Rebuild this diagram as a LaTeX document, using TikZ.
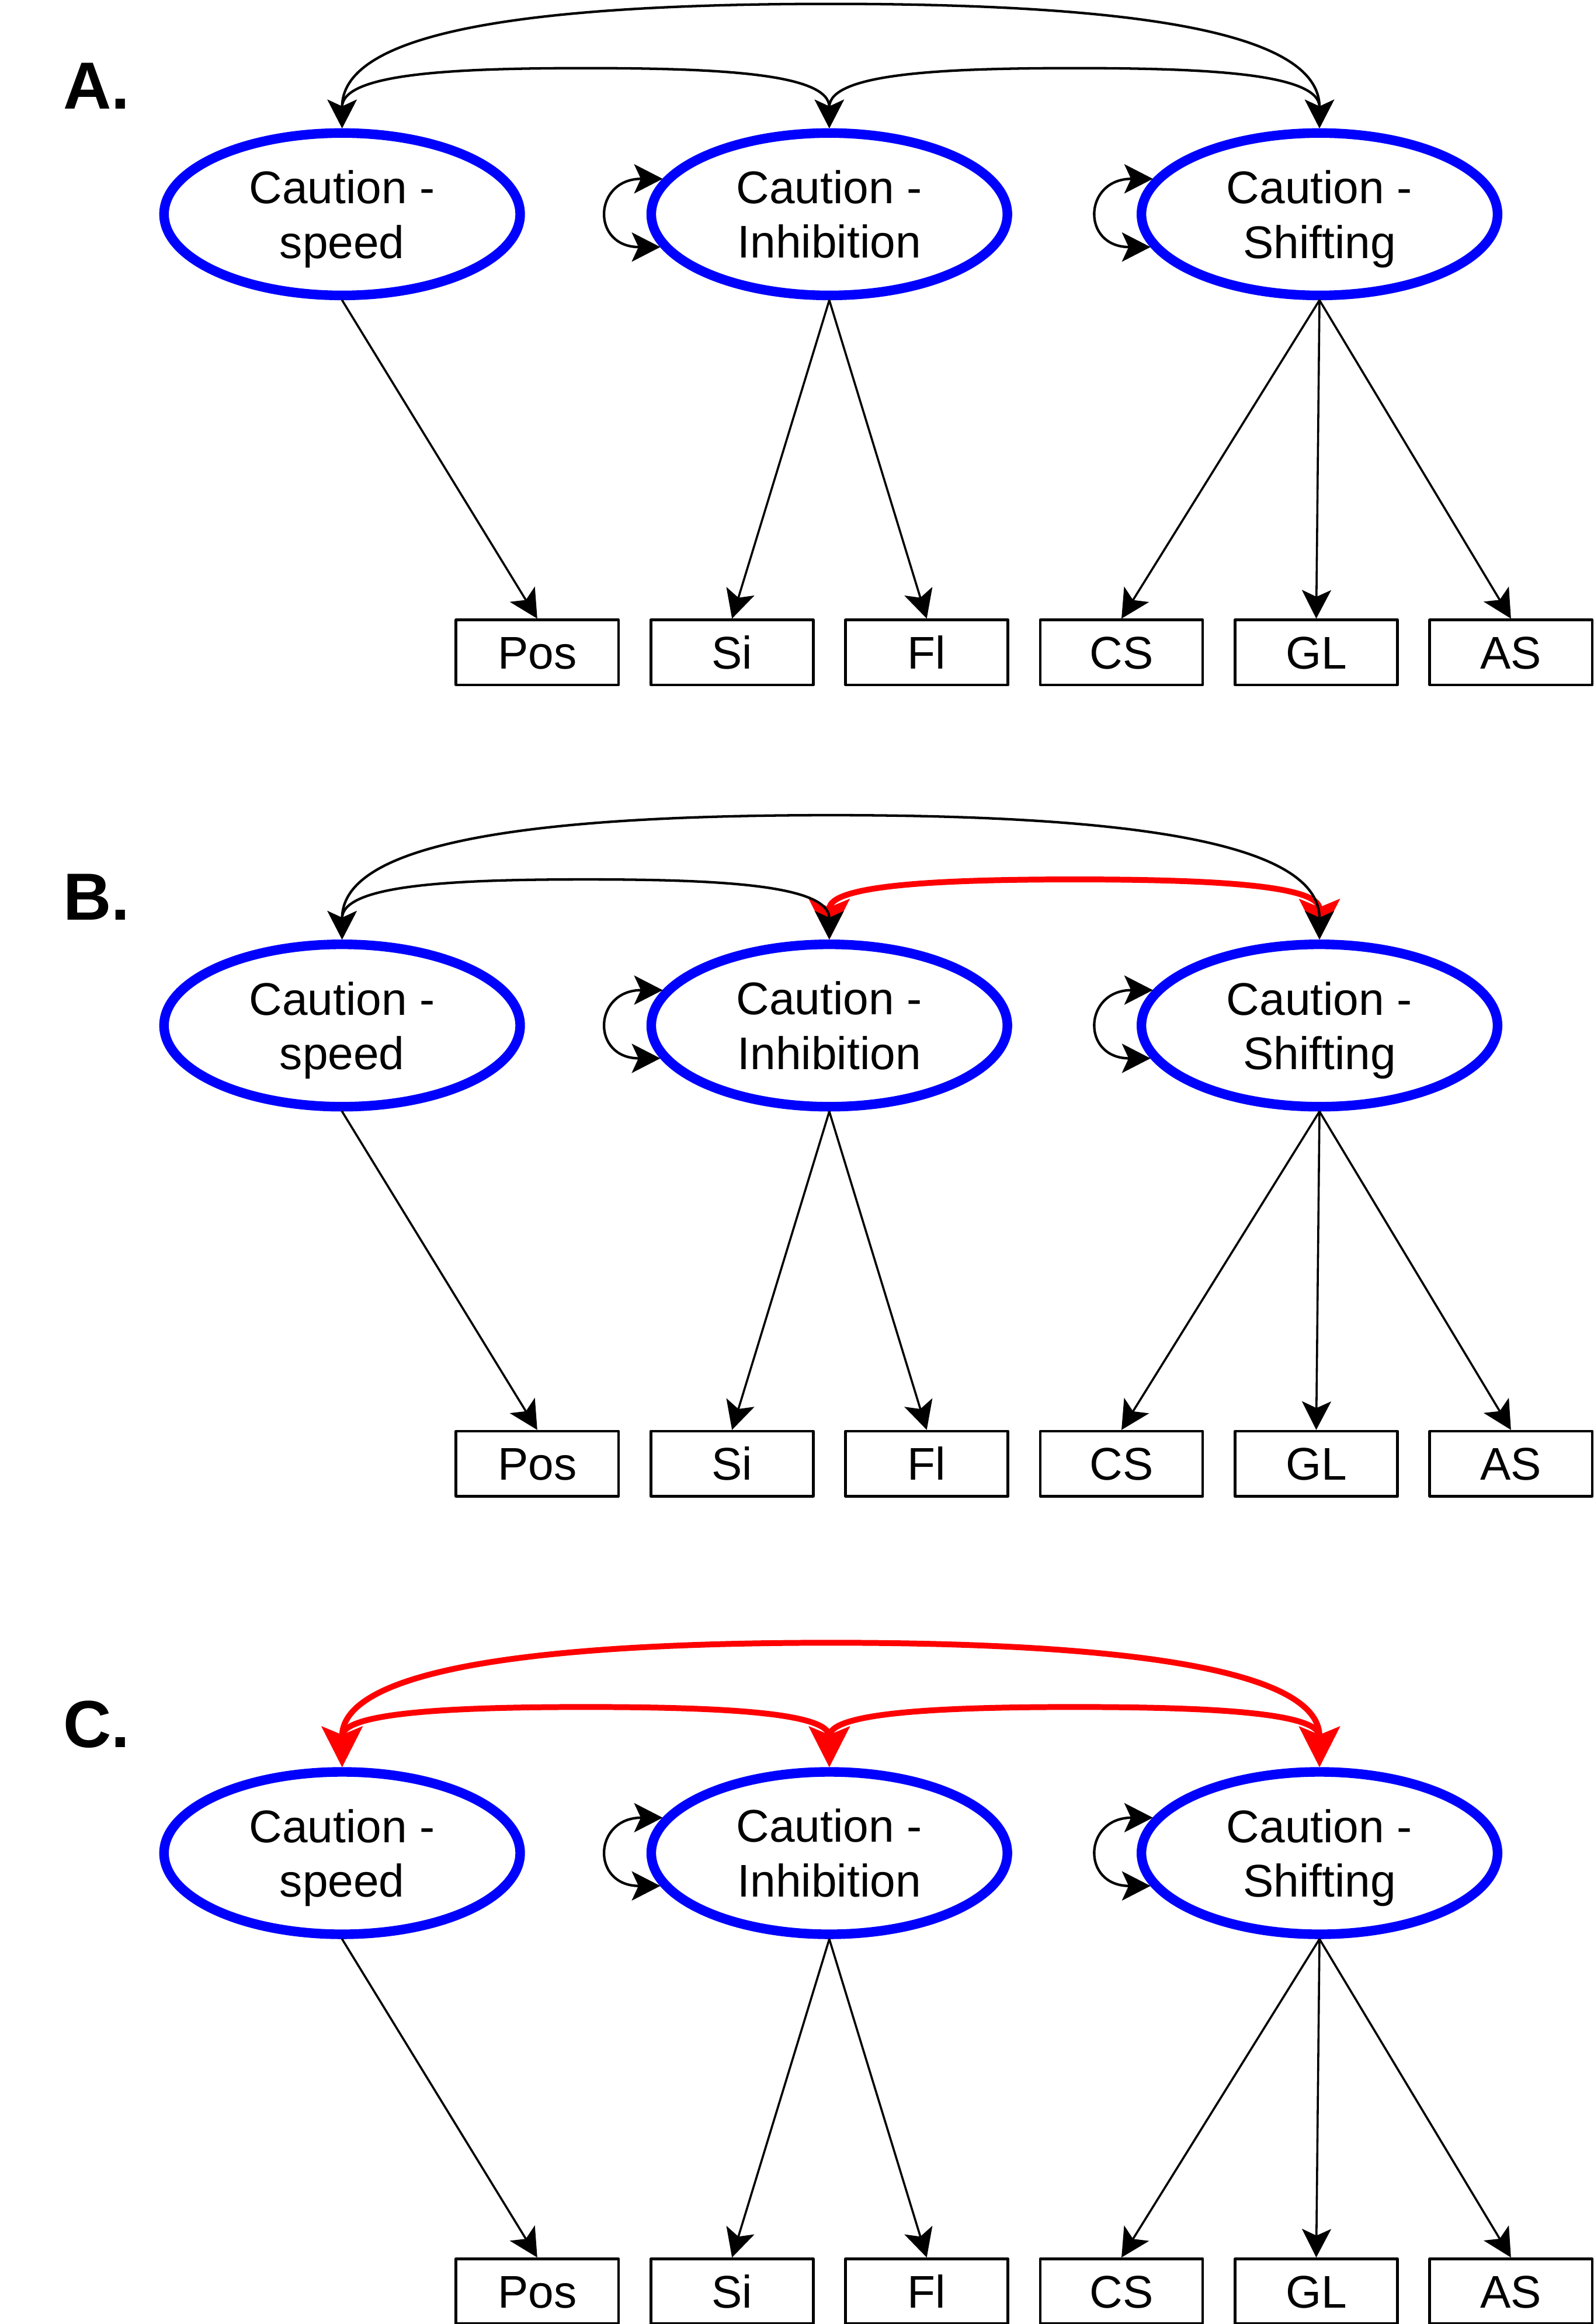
\documentclass[tikz,border=0pt]{standalone}
\usepackage{fontspec}
\setmainfont{Liberation Sans}
\usetikzlibrary{arrows.meta,shapes.geometric,calc}
\definecolor{cblue}{rgb}{0.,0.,1.}
\definecolor{cred}{rgb}{1.,0.,0.}

\begin{document}
\begin{tikzpicture}[line cap=round,line join=round,x=0.025cm,y=-0.025cm,
	>={Stealth[length=13.7pt,width=14pt,inset=3.2pt]},
	lat/.style={ellipse,draw=cblue,line width=4.6pt,minimum width=171pt,minimum height=78pt,inner sep=0pt,align=center,font=\fontsize{22}{26.2}\selectfont},
	obs/.style={rectangle,draw,line width=1.3pt,minimum width=78pt,minimum height=31.2pt,inner sep=0pt,text height=15.8pt,text depth=0pt,font=\fontsize{22}{26.2}\selectfont},
	ld/.style={->,line width=1pt},
	cov/.style={<->,line width=1.2pt},
	covred/.style={{Stealth[length=19.4pt,width=19.4pt,inset=3.9pt]}-{Stealth[length=19.4pt,width=19.4pt,inset=3.9pt]},line width=2.8pt,color=cred},
	lbl/.style={anchor=base west,inner sep=0pt,font=\fontsize{32}{38}\selectfont\bfseries}]
		\useasboundingbox (0,0) rectangle (1076,1569.8);
		\node [lbl] (labA) at (42.5,73.4) {A.};
		\node [lat] (spA) at (231,144.7) {\rule{0pt}{20.6pt}Caution -\\speed};
		\node [lat] (inA) at (560,144.7) {Caution -\\Inhibition};
		\node [lat] (shA) at (891,144.7) {\rule{0pt}{20.6pt}Caution -\\Shifting};
		\node [obs] (posA) at (362.8,440.7) {Pos};
		\node [obs] (siA) at (494.3,440.7) {Si};
		\node [obs] (flA) at (625.8,440.7) {Fl};
		\node [obs] (csA) at (757.3,440.7) {CS};
		\node [obs] (glA) at (888.8,440.7) {GL};
		\node [obs] (asA) at (1020.3,440.7) {AS};
		\draw [ld] (spA.south) -- (posA.north);
		\draw [ld] (inA.south) -- (siA.north);
		\draw [ld] (inA.south) -- (flA.north);
		\draw [ld] (shA.south) -- (csA.north);
		\draw [ld] (shA.south) -- (glA.north);
		\draw [ld] (shA.south) -- (asA.north);
		\draw [cov] (inA.168.6) .. controls +(-47,0) and +(-47,0) .. (inA.191.4);
		\draw [cov] (shA.168.6) .. controls +(-47,0) and +(-47,0) .. (shA.191.4);
		\draw [cov] (spA.north) .. controls +(0,-37) and +(-90,0) .. ($(spA.north)!.5!(inA.north)+(0,-40.6)$) .. controls +(90,0) and +(0,-37) .. (inA.north);
		\draw [cov] (inA.north) .. controls +(0,-37) and +(-90,0) .. ($(inA.north)!.5!(shA.north)+(0,-40.6)$) .. controls +(90,0) and +(0,-37) .. (shA.north);
		\draw [cov] (spA.north) .. controls +(0,-60) and +(-230,0) .. ($(spA.north)!.5!(shA.north)+(0,-84)$) .. controls +(230,0) and +(0,-60) .. (shA.north);
		\node [lbl] (labB) at (42.5,621.4) {B.};
		\node [lat] (spB) at (231,692.7) {\rule{0pt}{20.6pt}Caution -\\speed};
		\node [lat] (inB) at (560,692.7) {Caution -\\Inhibition};
		\node [lat] (shB) at (891,692.7) {\rule{0pt}{20.6pt}Caution -\\Shifting};
		\node [obs] (posB) at (362.8,988.7) {Pos};
		\node [obs] (siB) at (494.3,988.7) {Si};
		\node [obs] (flB) at (625.8,988.7) {Fl};
		\node [obs] (csB) at (757.3,988.7) {CS};
		\node [obs] (glB) at (888.8,988.7) {GL};
		\node [obs] (asB) at (1020.3,988.7) {AS};
		\draw [ld] (spB.south) -- (posB.north);
		\draw [ld] (inB.south) -- (siB.north);
		\draw [ld] (inB.south) -- (flB.north);
		\draw [ld] (shB.south) -- (csB.north);
		\draw [ld] (shB.south) -- (glB.north);
		\draw [ld] (shB.south) -- (asB.north);
		\draw [cov] (inB.168.6) .. controls +(-47,0) and +(-47,0) .. (inB.191.4);
		\draw [cov] (shB.168.6) .. controls +(-47,0) and +(-47,0) .. (shB.191.4);
		\draw [covred] (inB.north) .. controls +(0,-37) and +(-90,0) .. ($(inB.north)!.5!(shB.north)+(0,-40.6)$) .. controls +(90,0) and +(0,-37) .. (shB.north);
		\draw [cov] (spB.north) .. controls +(0,-37) and +(-90,0) .. ($(spB.north)!.5!(inB.north)+(0,-40.6)$) .. controls +(90,0) and +(0,-37) .. (inB.north);
		\draw [cov] (spB.north) .. controls +(0,-60) and +(-230,0) .. ($(spB.north)!.5!(shB.north)+(0,-84)$) .. controls +(230,0) and +(0,-60) .. (shB.north);
		\node [lbl] (labC) at (42.5,1180.4) {C.};
		\node [lat] (spC) at (231,1251.7) {\rule{0pt}{20.6pt}Caution -\\speed};
		\node [lat] (inC) at (560,1251.7) {Caution -\\Inhibition};
		\node [lat] (shC) at (891,1251.7) {\rule{0pt}{20.6pt}Caution -\\Shifting};
		\node [obs] (posC) at (362.8,1547.7) {Pos};
		\node [obs] (siC) at (494.3,1547.7) {Si};
		\node [obs] (flC) at (625.8,1547.7) {Fl};
		\node [obs] (csC) at (757.3,1547.7) {CS};
		\node [obs] (glC) at (888.8,1547.7) {GL};
		\node [obs] (asC) at (1020.3,1547.7) {AS};
		\draw [ld] (spC.south) -- (posC.north);
		\draw [ld] (inC.south) -- (siC.north);
		\draw [ld] (inC.south) -- (flC.north);
		\draw [ld] (shC.south) -- (csC.north);
		\draw [ld] (shC.south) -- (glC.north);
		\draw [ld] (shC.south) -- (asC.north);
		\draw [cov] (inC.168.6) .. controls +(-47,0) and +(-47,0) .. (inC.191.4);
		\draw [cov] (shC.168.6) .. controls +(-47,0) and +(-47,0) .. (shC.191.4);
		\draw [covred] (spC.north) .. controls +(0,-37) and +(-90,0) .. ($(spC.north)!.5!(inC.north)+(0,-40.6)$) .. controls +(90,0) and +(0,-37) .. (inC.north);
		\draw [covred] (inC.north) .. controls +(0,-37) and +(-90,0) .. ($(inC.north)!.5!(shC.north)+(0,-40.6)$) .. controls +(90,0) and +(0,-37) .. (shC.north);
		\draw [covred] (spC.north) .. controls +(0,-60) and +(-230,0) .. ($(spC.north)!.5!(shC.north)+(0,-84)$) .. controls +(230,0) and +(0,-60) .. (shC.north);
\end{tikzpicture}
\end{document}
